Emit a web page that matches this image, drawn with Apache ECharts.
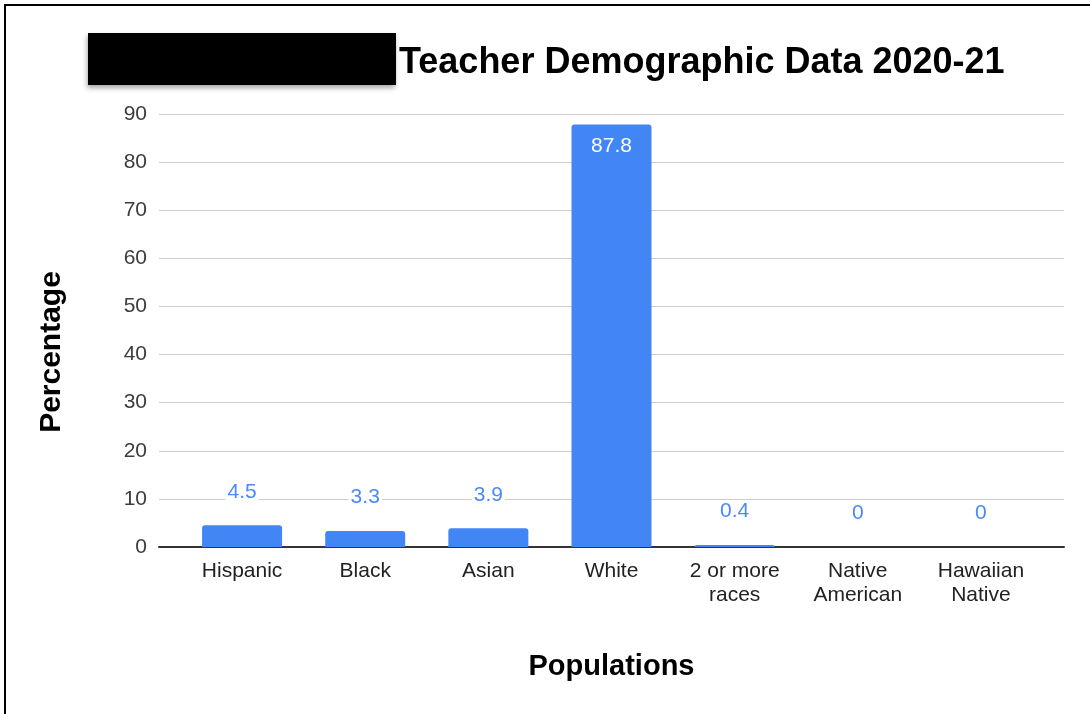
<!DOCTYPE html>
<html>
<head>
<meta charset="utf-8">
<style>
  html, body { margin: 0; padding: 0; background: #fff; }
  #chart { width: 1090px; height: 714px; }
</style>
<script src="https://cdn.jsdelivr.net/npm/echarts@6/dist/echarts.min.js"></script>
</head>
<body>
<div id="chart"></div>
<script>
// Teacher demographic percentages, 2020-21
const categories = ['Hispanic', 'Black', 'Asian', 'White', '2 or more\nraces', 'Native\nAmerican', 'Hawaiian\nNative'];
const percentages = [4.5, 3.3, 3.9, 87.8, 0.4, 0, 0];
const yTicks = { min: 0, max: 90, step: 10 };

const titleText = 'Teacher Demographic Data 2020-21';
const xAxisTitle = 'Populations';
const yAxisTitle = 'Percentage';

const FONT = '"Liberation Sans", Arial, sans-serif';
const BLUE = '#4285f4';

const barData = percentages.map(function (v, i) {
  // The tallest bar carries its label inside, in white
  if (i === 3) {
    return {
      value: v,
      label: { position: 'insideTop', distance: 11, color: '#fff', backgroundColor: 'transparent' }
    };
  }
  return { value: v };
});

const chart = echarts.init(document.getElementById('chart'), null, { renderer: 'canvas' });

chart.setOption({
  backgroundColor: '#fff',
  animation: false,
  title: {
    text: titleText,
    left: 394,
    top: 40,
    textStyle: { fontFamily: FONT, fontSize: 36, fontWeight: 'bold', color: '#000' }
  },
  graphic: [
    {
      type: 'rect',
      shape: { x: 5, y: 5, width: 1100, height: 720 },
      style: { fill: 'transparent', stroke: '#000', lineWidth: 2 },
      z: 100
    },
    {
      type: 'rect',
      shape: { x: 88, y: 33, width: 308, height: 52 },
      style: {
        fill: '#000',
        shadowBlur: 5,
        shadowOffsetX: -1,
        shadowOffsetY: 3,
        shadowColor: 'rgba(0,0,0,0.35)'
      },
      z: 100
    },
    {
      // vertical axis title
      type: 'text',
      x: 52,
      y: 352,
      rotation: Math.PI / 2,
      style: {
        text: yAxisTitle,
        font: 'bold 30px ' + FONT,
        fill: '#000',
        textAlign: 'center',
        textVerticalAlign: 'middle'
      }
    }
  ],
  grid: [
    // bars
    { left: 180.5, right: 47.5, top: 114, bottom: 167 },
    // full-width frame with gridlines and baseline
    { left: 159, right: 26, top: 114, bottom: 167 }
  ],
  xAxis: [
    {
      type: 'category',
      gridIndex: 0,
      data: categories,
      axisLine: { show: false },
      axisTick: { show: false },
      axisLabel: {
        fontFamily: FONT, fontSize: 21, color: '#222', margin: 12, lineHeight: 24,
        interval: 0
      },
      name: xAxisTitle,
      nameLocation: 'middle',
      nameGap: 105,
      nameTextStyle: { fontFamily: FONT, fontSize: 29, fontWeight: 'bold', color: '#000' }
    },
    {
      type: 'value',
      gridIndex: 1,
      min: 0,
      max: 1,
      axisLine: { show: true, onZero: false, lineStyle: { color: '#333', width: 2 } },
      axisTick: { show: false },
      axisLabel: { show: false },
      splitLine: { show: false }
    }
  ],
  yAxis: [
    {
      type: 'value',
      gridIndex: 0,
      min: yTicks.min,
      max: yTicks.max,
      interval: yTicks.step,
      show: false
    },
    {
      type: 'value',
      gridIndex: 1,
      min: yTicks.min,
      max: yTicks.max,
      interval: yTicks.step,
      axisLine: { show: false },
      axisTick: { show: false },
      axisLabel: { fontFamily: FONT, fontSize: 21, color: '#3c3c3c', margin: 12 },
      splitLine: { show: true, lineStyle: { color: '#cccccc', width: 1 } }
    }
  ],
  series: [
    {
      type: 'bar',
      xAxisIndex: 0,
      yAxisIndex: 0,
      data: barData,
      barWidth: 80,
      itemStyle: { color: BLUE, borderRadius: [3, 3, 0, 0] },
      label: {
        show: true,
        position: 'top',
        distance: 23,
        fontFamily: FONT,
        fontSize: 21,
        color: '#4a8af4',
        backgroundColor: '#fff',
        padding: [0, 2]
      },
      z: 3
    }
  ]
});
</script>
</body>
</html>
